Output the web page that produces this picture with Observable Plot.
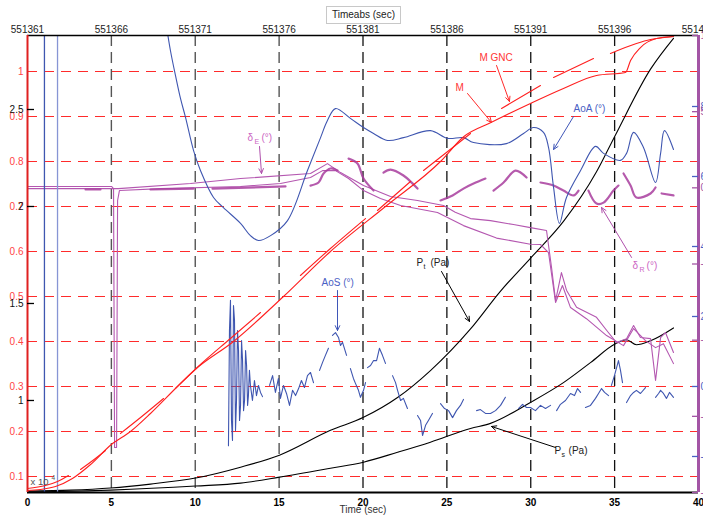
<!DOCTYPE html>
<html>
<head>
<meta charset="utf-8">
<script src="https://cdn.jsdelivr.net/npm/d3@7"></script>
<script src="https://cdn.jsdelivr.net/npm/@observablehq/plot@0.6"></script>
<style>
  html, body { margin: 0; padding: 0; background: #fff; overflow: hidden; }
  #wrap { position: relative; width: 703px; height: 516px; font-family: "Liberation Sans", Arial, sans-serif; }
  #title { position: absolute; left: 326px; top: 6px; height: 16px; line-height: 16px; padding: 0 5px;
           font-size: 10px; color: #222; border: 1px solid #c8c8c8; background: #fff; z-index: 2; }
</style>
</head>
<body>
<div id="wrap"><div id="title">Timeabs (sec)</div></div>
<script>
// ---- axes ----
const timeTicks = [0, 5, 10, 15, 20, 25, 30, 35, 40];
const timeabsStart = 551361;
const machTicks = [0.1, 0.2, 0.3, 0.4, 0.5, 0.6, 0.7, 0.8, 0.9, 1];
const machDomain = [0.0644, 1.08];
const pressTicks = [10000, 15000, 20000, 25000];          // Pa, shown as x 10^4
const angleTicks = [-2, 0, 2, 4, 6, 8];                    // AoA / AoS, deg
const surfTicks = [-20, -15, -10, -5, 0, 5, 10];           // control surfaces, deg

// ---- Mach (time s, M) ----
const mach = [[0,0.0689],[0.77,0.0711],[1.67,0.0778],[2.68,0.0956],[3.76,0.1267],[5.0,0.1711],[6.14,0.2],[7.33,0.24],[8.94,0.3],[10.0,0.3378],[12.28,0.4],[15.26,0.5],[18.06,0.6],[21.34,0.7],[24.62,0.8],[26.0,0.855],[27.66,0.887],[29.98,0.9289],[31.95,0.9622],[33.92,0.9911],[35.65,0.9978],[35.95,1.0244],[36.54,1.0533],[37.5,1.0733],[38.5,1.0778]];
const machGnc = [
  [[0,0.0733],[1.07,0.08],[1.79,0.0889],[2.44,0.1022]],
  [[3.16,0.1156],[4.05,0.14],[4.65,0.1578]],
  [[5.54,0.1956],[6.74,0.2311],[8.11,0.2733]],
  [[8.82,0.2956],[10.31,0.3489],[12.1,0.4067],[13.89,0.4644]],
  [[16.27,0.5467],[18.06,0.6067],[20.15,0.6733]],
  [[20.86,0.6911],[22.83,0.7556]],
  [[23.61,0.78],[26.41,0.8622]],
  [[28.26,0.9178],[30.58,0.9689]],
  [[31.36,0.9867],[33.74,1.0289]],
  [[34.75,1.04],[36.3,1.0622],[37.14,1.0711],[38.51,1.0778]]
];

// ---- angle of attack / sideslip (time s, deg) ----
const aoa = [[8.23,10.46],[8.52,9.6],[8.82,8.89],[9.12,8.23],[9.42,7.69],[9.9,6.74],[10.31,6.17],[11.09,5.4],[11.68,5.11],[12.7,4.66],[13.29,4.31],[13.77,4.17],[14.49,4.31],[15.5,4.74],[16.69,6.17],[17.47,7.11],[17.88,7.6],[18.36,7.94],[19.25,7.66],[20.03,7.4],[20.63,7.23],[21.46,7.03],[22.41,7.11],[24.02,7.31],[25.04,7.09],[25.99,7.11],[26.59,6.97],[28.55,6.94],[29.57,7.23],[30.16,7.4],[30.76,7.26],[31.06,6.83],[31.36,5.69],[31.71,4.66],[32.13,5.4],[32.97,6.17],[33.86,6.86],[34.34,6.66],[35.35,6.46],[35.71,6.66],[36.13,7.26],[36.72,6.83],[37.44,5.83],[37.74,6.66],[37.97,7.31],[38.51,6.77]];
const aoaSpikes = [[[1.01,-3.5],[1.01,10.5]], [[1.79,-3.5],[1.79,10.5]]];
const aos = [
  [[11.98,-1.69],[12.04,1.6],[12.10,2.46],[12.16,-0.97],[12.22,-1.54],[12.28,2.31],[12.34,1.89],[12.40,-1.26],[12.46,-0.4],[12.52,1.6],[12.58,1.03],[12.64,-0.97],[12.70,-0.54],[12.76,1.31],[12.82,0.74],[12.88,-0.69],[12.94,-0.4],[13.00,1.03],[13.06,0.6],[13.12,-0.54],[13.17,-0.26],[13.23,0.46],[13.29,0.03],[13.41,-0.4],[13.53,0.17],[13.65,-0.26],[13.77,0.03],[13.89,-0.17],[14.01,-0.29]],
  [[14.43,0.03],[14.61,0.31],[14.78,-0.17],[14.96,0.23],[15.08,-0.34],[15.26,0.03],[15.44,-0.2],[15.62,-0.54],[15.80,-0.11],[15.98,-0.26],[16.16,-0.06],[16.33,0.17],[16.51,-0.03],[16.69,0.31],[16.87,0.4],[17.05,0.11]],
  [[17.41,0.46],[17.59,0.69],[17.76,0.89],[17.94,1.09]],
  [[18.18,1.46],[18.36,1.54],[18.54,1.4],[18.66,1.17],[18.78,1.26],[19.02,0.89]],
  [[19.25,0.51],[19.43,0.23],[19.55,0.09],[19.73,-0.11],[19.85,-0.31],[20.03,-0.11],[20.15,0.11]],
  [[20.27,0.54],[20.45,0.6],[20.63,0.74],[20.81,0.74],[20.98,1.09],[21.16,0.89],[21.34,0.66]],
  [[21.76,0.31],[21.94,0.11],[22.06,-0.11],[22.24,-0.4],[22.41,-0.34],[22.65,-0.63]],
  [[23.25,-0.83],[23.43,-0.97],[23.55,-1.4],[23.73,-1.11],[23.90,-0.97],[24.14,-0.77]],
  [[24.62,-0.49],[24.86,-0.63],[25.10,-0.69],[25.34,-0.89],[25.57,-0.69],[25.81,-0.54],[25.99,-0.37]],
  [[26.77,-0.69],[27.0,-0.66],[27.30,-0.77],[27.60,-0.77],[27.90,-0.69],[28.20,-0.54],[28.49,-0.31]],
  [[29.27,-0.63],[29.51,-0.51],[29.75,-0.6],[29.98,-0.6],[30.28,-0.69],[30.58,-0.54],[30.88,-0.63],[31.18,-0.54]],
  [[31.54,-0.69],[31.77,-0.51],[32.07,-0.4],[32.37,-0.2],[32.61,-0.26],[32.79,-0.06],[32.97,-0.17]],
  [[33.26,-0.6],[33.56,-0.54],[33.86,-0.34],[34.04,-0.2],[34.22,-0.06],[34.40,-0.17],[34.64,-0.26]],
  [[34.81,0.03],[34.99,0.31],[35.23,0.74],[35.35,0.46],[35.47,0.11]],
  [[35.71,-0.46],[35.95,-0.26],[36.13,-0.17],[36.30,-0.11],[36.54,-0.2],[36.84,-0.03]],
  [[37.44,-0.31],[37.62,-0.2],[37.74,-0.11],[37.91,-0.2],[38.09,-0.34],[38.27,-0.17],[38.51,-0.31]]
];

// ---- control surfaces (time s, deg) ----
const deltaE1 = [[0,-0.05],[5.13,-0.05],[5.42,-0.05],[9.72,0.28],[12.7,0.61],[16.87,0.94],[17.88,1.59],[18.66,1.0],[20.03,0.15],[21.64,-0.57],[23.25,-0.83],[24.8,-1.16],[25.5,-1.6],[26.41,-2.02],[27.6,-2.15],[28.97,-2.41],[29.98,-2.61],[30.94,-2.8],[31.24,-5.23],[31.48,-7.4],[31.83,-5.56],[32.13,-6.72],[32.73,-7.84],[33.92,-8.5],[34.52,-9.35],[35.11,-10.16],[35.71,-9.9],[36.13,-9.04],[36.54,-9.83],[37.14,-9.9],[37.44,-12.65],[37.74,-9.83],[38.03,-9.5],[38.51,-10.81]];
const deltaE2 = [[0,0.09],[5.01,0.09],[5.13,-0.05],[5.19,-17.05],[5.31,-17.05],[5.37,-0.83],[5.48,-0.18],[7.93,-0.05],[12.7,0.09],[15.08,0.28],[16.87,0.68],[17.59,1.13],[18.36,1.13],[19.14,0.61],[20.03,-0.18],[21.04,-0.7],[22.24,-1.16],[24.44,-1.62],[25.99,-2.48],[27.96,-3.3],[29.98,-3.7],[30.58,-3.72],[31.06,-4.25],[31.48,-7.53],[31.89,-6.41],[32.37,-7.86],[33.32,-8.59],[34.52,-9.7],[35.53,-10.36],[36.13,-9.24],[36.84,-10.03],[37.44,-10.49],[37.91,-10.23],[38.51,-11.54]];
const deltaR = [
  [[3.46,-0.11],[4.35,-0.11]],
  [[7.33,-0.11],[9.9,-0.05]],
  [[11.03,-0.05],[15.38,0.09]],
  [[16.87,0.15],[17.35,0.35],[17.65,0.94],[18.06,1.27],[18.48,1.14]],
  [[19.14,1.92],[19.67,1.6],[20.03,0.61],[20.63,-0.18]],
  [[21.22,1.0],[21.64,1.2],[22.41,0.81],[23.25,-0.05]],
  [[24.62,-0.83],[25.34,-0.5],[25.99,-0.05],[26.59,0.28],[27.3,0.61]],
  [[27.78,-0.18],[28.38,0.35],[29.09,1.13],[29.75,0.68]],
  [[30.58,0.35],[31.36,0.15],[31.95,-0.18],[32.55,-0.5],[32.85,-0.18]],
  [[33.44,-0.18],[33.92,-1.03],[34.34,-0.97],[34.93,-0.18],[35.23,0.15]],
  [[35.53,0.94],[35.95,0.15],[36.3,-0.64],[37.14,-0.37],[37.44,0.02]],
  [[37.8,-0.37],[38.51,-0.5]]
];

// ---- pressures (time s, Pa) ----
const pTotal = [[0,5330],[2.56,5380],[4.95,5490],[7.33,5690],[10.02,6000],[12.7,6560],[15.02,7180],[18.06,8460],[20.03,9130],[22.06,10150],[24.02,11540],[26.41,13690],[28.2,15640],[29.98,17330],[31.95,19230],[33.92,21790],[35.05,23690],[37.14,27080],[38.51,28670]];
const pStatic = [[0,5280],[4.95,5380],[10.02,5590],[12.7,5740],[15.02,6050],[18.06,6510],[20.03,6820],[22.06,7330],[24.02,7850],[26.41,8560],[27.6,8820],[29.98,9900],[31.95,10920],[33.56,11950],[35.05,12920],[35.71,13130],[36.3,12870],[37.14,13080],[38.51,13740]];

// ---- annotations (time s, position on the Mach axis) ----
// name = main text, sub = subscript, unit = text after the subscript
const labelText = [
  {t: 26.94, m: 1.031, name: "M GNC", color: "#ff3535"},
  {t: 25.51, m: 0.9644, name: "M", color: "#ff3535"},
  {t: 32.55, m: 0.9178, name: "AoA (°)", color: "#4a60c4"},
  {t: 13.11, m: 0.8533, name: "δ", sub: "E", unit: "(°)", color: "#cc66c4"},
  {t: 17.53, m: 0.5311, name: "AoS (°)", color: "#4a60c4"},
  {t: 23.19, m: 0.5756, name: "P", sub: "t", unit: "(Pa)", color: "#222"},
  {t: 31.42, m: 0.1578, name: "P", sub: "s", unit: "(Pa)", color: "#222"},
  {t: 36.07, m: 0.5689, name: "δ", sub: "R", unit: "(°)", color: "#cc66c4"}
];
const arrows = [
  {t1: 27.96, m1: 1.0133, t2: 28.73, m2: 0.9333, color: "#ff2a2a"},
  {t1: 26.23, m1: 0.9511, t2: 27.66, m2: 0.8867, color: "#ff2a2a"},
  {t1: 32.55, m1: 0.9, t2: 31.36, m2: 0.8267, color: "#3f56b8"},
  {t1: 13.83, m1: 0.8333, t2: 13.95, m2: 0.7733, color: "#b050ac"},
  {t1: 18.48, m1: 0.5133, t2: 18.48, m2: 0.4244, color: "#3f56b8"},
  {t1: 24.68, m1: 0.5556, t2: 26.35, m2: 0.4444, color: "#000"},
  {t1: 31.48, m1: 0.1644, t2: 27.66, m2: 0.2111, color: "#000"},
  {t1: 36.01, m1: 0.5867, t2: 34.22, m2: 0.6978, color: "#b050ac"}
];

// ---- layout ----
const W = 703, H = 516;
const mL = 27, mR = 5, mT = 35, mB = 24;
const plotW = W - mL - mR;
const font = "'Liberation Sans', Arial, sans-serif";

// each extra axis is placed on the shared (Mach) y scale
const pressToM = d3.scaleLinear().domain([10000, 25000]).range([0.26889, 0.91556]);
const angleToM = d3.scaleLinear().domain([0, 8]).range([0.3, 0.92222]);
const surfToM = d3.scaleLinear().domain([-20, 10]).range(machDomain);

const rows = (pairs, seg = 0) => pairs.map(([t, v]) => ({t, v, seg}));
const segRows = (segs) => segs.flatMap((s, i) => rows(s, i));

const colors = {
  red: "#ff1f1f", grid: "#ff2b2b", redText: "#ff4545",
  blue: "#3f56b0", blueLight: "#8795d4",
  purple: "#b457b0", purpleBold: "#a83d9e", frame: "#a355a5"
};

const lineOf = (data, toM, opts) =>
  Plot.line(data, {x: "t", y: d => toM(d.v), z: "seg", clip: true, strokeWidth: 1.1, ...opts});

const idM = v => v;
const withSub = labelText.filter(d => d.sub);

const chart = Plot.plot({
  width: W, height: H,
  marginLeft: mL, marginRight: mR, marginTop: mT, marginBottom: mB,
  style: {fontFamily: font, fontSize: "10px", background: "transparent", overflow: "visible"},
  x: {domain: [0, 40]},
  y: {domain: machDomain},
  marks: [
    // grids
    Plot.ruleY(machTicks, {stroke: colors.grid, strokeWidth: 1.1, strokeDasharray: "10,7"}),
    Plot.ruleX(timeTicks.slice(1, 4), {stroke: "#555", strokeWidth: 1.4, strokeDasharray: "11,6"}),
    Plot.ruleX(timeTicks.slice(4, -1), {stroke: "#111", strokeWidth: 1.3, strokeDasharray: "11,6"}),

    // pressures
    lineOf(rows(pTotal), pressToM, {stroke: "#000", curve: "monotone-x"}),
    lineOf(rows(pStatic), pressToM, {stroke: "#000", curve: "monotone-x"}),

    // control surfaces
    lineOf(rows(deltaE1), surfToM, {stroke: colors.purple}),
    lineOf(rows(deltaE2), surfToM, {stroke: colors.purple}),
    lineOf(segRows(deltaR), surfToM, {stroke: colors.purpleBold, strokeWidth: 2.2, strokeOpacity: 0.85, curve: "catmull-rom"}),

    // angles
    lineOf(segRows([aoaSpikes[0]]), angleToM, {stroke: colors.blue, strokeWidth: 1.3}),
    lineOf(segRows([aoaSpikes[1]]), angleToM, {stroke: colors.blueLight, strokeWidth: 1.3}),
    lineOf(rows(aoa), angleToM, {stroke: colors.blue, curve: "catmull-rom"}),
    lineOf(segRows(aos), angleToM, {stroke: colors.blue}),

    // Mach
    lineOf(rows(mach), idM, {stroke: colors.red, curve: "monotone-x"}),
    lineOf(segRows(machGnc), idM, {stroke: colors.red, curve: "monotone-x"}),

    // frame
    Plot.ruleY([machDomain[0]], {stroke: "#000", strokeWidth: 2}),
    Plot.ruleY([machDomain[1]], {stroke: "#000", strokeWidth: 1.5}),
    Plot.ruleX([0], {stroke: "#e02020", strokeWidth: 2}),
    Plot.ruleX([40], {stroke: colors.frame, strokeWidth: 3}),

    // x axes
    Plot.axisX(timeTicks, {anchor: "bottom", tickSize: 0, tickPadding: 6, fontWeight: "bold", fill: "#000", label: null}),
    Plot.axisX(timeTicks, {anchor: "top", tickSize: 0, tickPadding: 3, fill: "#222", label: null, tickFormat: d => String(d + timeabsStart)}),
    Plot.text(["Time (sec)"], {frameAnchor: "bottom", dy: 20, fill: "#333", fontSize: 10}),

    // left axes
    Plot.axisY(machTicks, {anchor: "left", tickSize: 0, tickPadding: 4, fill: colors.redText, label: null,
      tickFormat: d => d === 1 ? "1" : d3.format(".1f")(d)}),
    Plot.tickY(pressTicks, {y: d => pressToM(d), insetRight: plotW - 7, stroke: "#000", strokeWidth: 1.3}),
    Plot.axisY(pressTicks.map(d => pressToM(d)), {anchor: "left", tickSize: 0, tickPadding: 4, fill: "#111", label: null,
      tickFormat: d => String(Math.round(pressToM.invert(d)) / 1e4)}),
    Plot.text(["x 10"], {frameAnchor: "bottom-left", dx: 3, dy: -8, textAnchor: "start", fill: "#555", fontSize: 9.5}),
    Plot.text(["4"], {frameAnchor: "bottom-left", dx: 24, dy: -13, textAnchor: "start", fill: "#555", fontSize: 6.5}),

    // right axes
    Plot.tickY(angleTicks, {y: d => angleToM(d), insetLeft: plotW - 6, stroke: "#4a60c4", strokeWidth: 1.3}),
    Plot.tickY(surfTicks, {y: d => surfToM(d), insetLeft: plotW - 6, stroke: colors.frame, strokeWidth: 1.3}),
    Plot.axisY(angleTicks.map(d => angleToM(d)), {anchor: "right", tickSize: 0, tickPadding: 2, fill: "#4a60c4", label: null,
      tickFormat: d => String(Math.round(angleToM.invert(d)))}),
    Plot.axisY(surfTicks.map(d => surfToM(d)), {anchor: "right", tickSize: 0, tickPadding: 2, fill: colors.frame, label: null,
      tickFormat: d => String(Math.round(surfToM.invert(d)))}),

    // annotations
    Plot.arrow(arrows, {x1: "t1", y1: "m1", x2: "t2", y2: "m2", stroke: "color", strokeWidth: 1, headLength: 8, headAngle: 50}),
    Plot.text(labelText, {x: "t", y: "m", text: "name", fill: "color", textAnchor: "start", fontSize: 10}),
    Plot.text(withSub, {x: "t", y: "m", text: "sub", fill: "color", textAnchor: "start", fontSize: 7, dx: 7, dy: 4}),
    Plot.text(withSub, {x: "t", y: "m", text: "unit", fill: "color", textAnchor: "start", fontSize: 10, dx: 14})
  ]
});

document.getElementById("wrap").appendChild(chart);
</script>
</body>
</html>
